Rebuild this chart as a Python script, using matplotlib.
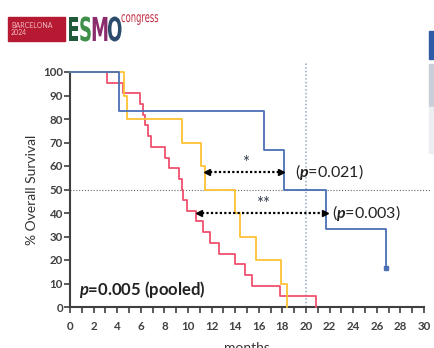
import numpy as np
import matplotlib.pyplot as plt
from matplotlib.patches import Rectangle, PathPatch
from matplotlib.textpath import TextPath
from matplotlib.font_manager import FontProperties
from matplotlib.transforms import Affine2D
from matplotlib.ticker import MultipleLocator

plt.rcParams['font.family'] = ['Lato', 'DejaVu Sans']
plt.rcParams['mathtext.fontset'] = 'custom'
plt.rcParams['mathtext.rm'] = 'Lato'
plt.rcParams['mathtext.it'] = 'Lato:italic:bold'
plt.rcParams['mathtext.bf'] = 'Lato:bold'

# Kaplan-Meier step data (months, % overall survival)
blue_t = [0, 4.15, 16.4, 18.1, 21.7, 26.8]
blue_s = [100, 83.3, 66.7, 50.0, 33.3, 16.7]

yellow_t = [0, 4.6, 4.85, 9.5, 11.1, 11.45, 14.0, 14.4, 15.8, 17.9, 18.4]
yellow_s = [100, 90, 80, 70, 60, 50, 40, 30, 20, 10, 0]

red_t = [0, 3.1, 4.45, 5.95, 6.15, 6.35, 6.6, 6.9, 8.05, 8.35, 9.25, 9.45,
         9.6, 9.95, 10.7, 11.3, 11.9, 12.6, 14.0, 14.8, 15.4, 17.8, 20.85]
red_s = [100, 95.5, 90.9, 86.4, 81.8, 77.3, 72.7, 68.2, 63.6, 59.1, 54.5, 50.0,
         45.5, 40.9, 36.4, 31.8, 27.3, 22.7, 18.2, 13.6, 9.1, 4.5, 0]

# median comparisons: (from, to, y, stars, label x, p label)
comparisons = [
    (11.6, 17.9, 57.3, '*', 19.1, r'($p$=0.021)'),
    (10.9, 21.6, 40.1, '**', 22.2, r'($p$=0.003)'),
]
pooled_label = r'$p$=0.005 (pooled)'

BLUE = '#4a6fb5'
YELLOW = '#ffc234'
RED = '#f0506e'
AXC = '#404040'

fig = plt.figure(figsize=(4.34, 3.48), dpi=100)
ax = fig.add_axes([70/434, 1 - 307/348, 354/434, 235/348])

# reference lines
ax.plot([0, 30.5], [50, 50], color='#666666', lw=0.8, ls=(0, (1, 1.6)), clip_on=False, zorder=1)
ax.plot([20, 20], [0, 104], color='#9aa6c8', lw=1.1, ls=(0, (1, 1.4)), clip_on=False, zorder=1)

ax.step(red_t, red_s, where='post', color=RED, lw=1.3, clip_on=False, zorder=3)
ax.step(yellow_t, yellow_s, where='post', color=YELLOW, lw=1.3, clip_on=False, zorder=3)
ax.step(blue_t, blue_s, where='post', color=BLUE, lw=1.3, clip_on=False, zorder=4)
ax.plot(blue_t[-1], blue_s[-1], marker='s', ms=2.5, color=BLUE, zorder=4)

for x0, x1, y, stars, lx, lab in comparisons:
    ax.plot([x0 + 0.3, x1 - 0.3], [y, y], color='black', lw=1.6, ls=(0, (1, 1)), zorder=5)
    ax.plot(x0, y, marker='<', ms=5, color='black', zorder=5)
    ax.plot(x1, y, marker='>', ms=5, color='black', zorder=5)
    ax.text((x0 + x1) / 2 + 0.1, y + 0.5, stars, ha='center', va='bottom',
            fontsize=12, color='#333a4a')
    ax.text(lx, y, lab, ha='left', va='center', fontsize=11.5, color='#222222')

ax.text(0.8, 7.6, pooled_label, ha='left', va='center', fontsize=12,
        fontweight='bold', color='#222222')

ax.set_xlim(0, 30)
ax.set_ylim(0, 100)
ax.xaxis.set_major_locator(MultipleLocator(2))
ax.xaxis.set_minor_locator(MultipleLocator(1))
ax.yaxis.set_major_locator(MultipleLocator(10))
for side in ['top', 'right']:
    ax.spines[side].set_visible(False)
for side in ['left', 'bottom']:
    ax.spines[side].set_color(AXC)
    ax.spines[side].set_linewidth(1.5)
ax.tick_params(axis='both', which='both', direction='out', color=AXC, width=1.2)
ax.tick_params(axis='x', which='major', length=4, pad=6)
ax.tick_params(axis='x', which='minor', length=4)
ax.tick_params(axis='y', length=4, pad=1)
for lbl in ax.get_xticklabels() + ax.get_yticklabels():
    lbl.set_fontsize(8.3)
    lbl.set_fontweight('bold')
    lbl.set_color(AXC)

ax.set_ylabel('% Overall Survival', fontsize=10, color='#333333', labelpad=4)
ax.set_xlabel('months', fontsize=10, color='#333333', labelpad=7)


def logo_text(s, x, y, size, sx, color, weight='bold'):
    # text drawn as a horizontally squeezed path, x/y in pixels from top-left
    path = TextPath((0, 0), s, size=size, prop=FontProperties(family='DejaVu Sans', weight=weight))
    tr = Affine2D().scale(sx, 1).translate(x, 348 - y)
    fig.patches.append(PathPatch(path, transform=tr, color=color, lw=0))


# conference logo
fig.patches.append(Rectangle((8/434, 1 - 41/348), 57/434, 24/348,
                             transform=fig.transFigure, color='#b51a32', zorder=0))
fig.text(11/434, 1 - 29/348, 'BARCELONA\n2024', fontsize=5, color='#f4b9c2',
         va='center', ha='left', linespacing=1.0)
for ch, xp, col in [('E', 67, '#1f5a3b'), ('S', 79, '#3f8e4a'), ('M', 91, '#8a2b6c'), ('O', 107, '#2c4c6c')]:
    logo_text(ch, xp, 41, 33, 0.55, col)
logo_text('congress', 121, 22, 14, 0.6, '#c02a40', weight='normal')

# slide panel edge on the right
fig.patches.append(Rectangle((429/434, 1 - 59/348), 5/434, 28/348,
                             transform=fig.transFigure, color='#2f5aa6', zorder=0))
fig.patches.append(Rectangle((429/434, 1 - 107/348), 5/434, 43/348,
                             transform=fig.transFigure, color='#c8cfdb', zorder=0))
fig.patches.append(Rectangle((429/434, 1 - 153/348), 5/434, 46/348,
                             transform=fig.transFigure, color='#eceef2', zorder=0))

fig.savefig('out.png', dpi=100)
